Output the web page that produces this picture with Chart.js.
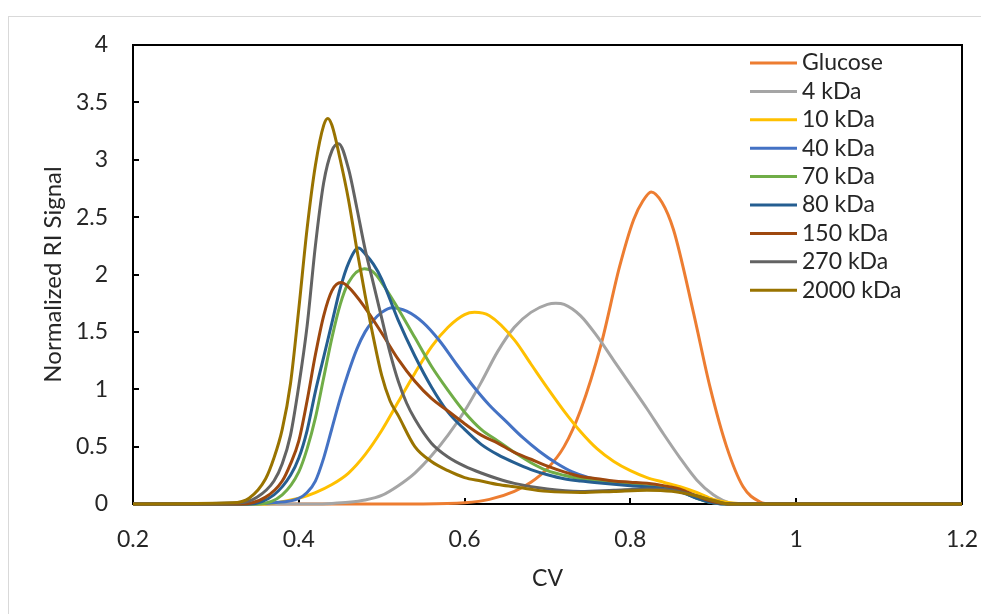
<!DOCTYPE html>
<html>
<head>
<meta charset="utf-8">
<title>RI signal vs CV</title>
<script src="https://cdn.jsdelivr.net/npm/chart.js@4.4.1/dist/chart.umd.min.js"></script>
<style>
  html, body { margin: 0; padding: 0; background: #fff; }
  canvas { display: block; }
</style>
</head>
<body>
<canvas id="myChart" width="981" height="614"></canvas>
<script>
// CV / normalized RI signal pairs, one pair of arrays per sample
const cvGlucose = [0.2, 0.55, 0.60, 0.63, 0.66, 0.68, 0.70, 0.72, 0.74, 0.765, 0.787, 0.804, 0.815, 0.825, 0.838, 0.852, 0.876, 0.896, 0.916, 0.936, 0.956, 0.97, 1.2]
const riGlucose = [0, 0, 0.01, 0.04, 0.11, 0.19, 0.31, 0.50, 0.82, 1.40, 2.07, 2.48, 2.64, 2.72, 2.63, 2.39, 1.67, 1.02, 0.50, 0.15, 0.02, 0, 0]

const cv4 = [0.2, 0.42, 0.44, 0.46, 0.48, 0.50, 0.52, 0.54, 0.56, 0.58, 0.60, 0.62, 0.64, 0.66, 0.68, 0.70, 0.71, 0.72, 0.74, 0.76, 0.78, 0.80, 0.82, 0.84, 0.86, 0.88, 0.90, 0.92, 0.94, 1.2]
const ri4 = [0, 0, 0.005, 0.015, 0.035, 0.075, 0.16, 0.27, 0.42, 0.60, 0.81, 1.06, 1.33, 1.54, 1.67, 1.74, 1.75, 1.74, 1.64, 1.46, 1.25, 1.04, 0.83, 0.61, 0.40, 0.21, 0.08, 0.01, 0, 0]

const cv10 = [0.2, 0.36, 0.38, 0.40, 0.42, 0.44, 0.46, 0.48, 0.50, 0.52, 0.54, 0.56, 0.58, 0.60, 0.612, 0.63, 0.66, 0.68, 0.70, 0.72, 0.74, 0.76, 0.78, 0.80, 0.82, 0.84, 0.86, 0.88, 0.90, 0.92, 0.94, 1.2]
const ri10 = [0, 0, 0.02, 0.05, 0.10, 0.17, 0.27, 0.43, 0.64, 0.89, 1.14, 1.37, 1.54, 1.65, 1.67, 1.64, 1.43, 1.22, 1.01, 0.81, 0.63, 0.48, 0.37, 0.29, 0.23, 0.19, 0.15, 0.10, 0.04, 0.01, 0, 0]

const cv40 = [0.2, 0.34, 0.37, 0.40, 0.41, 0.42, 0.43, 0.44, 0.45, 0.46, 0.47, 0.48, 0.49, 0.50, 0.513, 0.53, 0.55, 0.57, 0.59, 0.61, 0.63, 0.65, 0.67, 0.69, 0.71, 0.73, 0.75, 0.77, 0.79, 0.81, 0.83, 0.85, 0.87, 0.89, 0.91, 1.2]
const ri40 = [0, 0, 0.01, 0.05, 0.10, 0.20, 0.40, 0.66, 0.92, 1.15, 1.35, 1.50, 1.60, 1.67, 1.71, 1.68, 1.58, 1.42, 1.22, 1.03, 0.86, 0.72, 0.58, 0.46, 0.36, 0.28, 0.23, 0.20, 0.18, 0.16, 0.15, 0.13, 0.08, 0.03, 0, 0]

const cv70 = [0.2, 0.35, 0.38, 0.40, 0.41, 0.42, 0.43, 0.44, 0.45, 0.46, 0.479, 0.49, 0.50, 0.52, 0.54, 0.56, 0.58, 0.60, 0.62, 0.64, 0.66, 0.68, 0.70, 0.72, 0.74, 0.76, 0.80, 0.84, 0.86, 0.88, 0.90, 0.92, 1.2]
const ri70 = [0, 0, 0.08, 0.28, 0.48, 0.75, 1.10, 1.45, 1.74, 1.93, 2.05, 2.02, 1.93, 1.70, 1.45, 1.20, 0.99, 0.80, 0.65, 0.55, 0.45, 0.36, 0.29, 0.25, 0.22, 0.20, 0.17, 0.14, 0.11, 0.05, 0.01, 0, 0]

const cv80 = [0.2, 0.34, 0.37, 0.39, 0.40, 0.41, 0.42, 0.43, 0.44, 0.45, 0.46, 0.472, 0.48, 0.49, 0.50, 0.52, 0.54, 0.56, 0.58, 0.60, 0.62, 0.64, 0.66, 0.68, 0.70, 0.72, 0.74, 0.76, 0.80, 0.84, 0.86, 0.88, 0.90, 0.92, 1.2]
const ri80 = [0, 0, 0.08, 0.25, 0.40, 0.64, 0.98, 1.28, 1.58, 1.88, 2.10, 2.23, 2.18, 2.09, 1.96, 1.60, 1.29, 1.02, 0.80, 0.65, 0.52, 0.43, 0.36, 0.30, 0.255, 0.22, 0.20, 0.185, 0.16, 0.135, 0.11, 0.05, 0.01, 0, 0]

const cv150 = [0.2, 0.33, 0.36, 0.38, 0.39, 0.40, 0.41, 0.42, 0.43, 0.44, 0.451, 0.46, 0.48, 0.50, 0.52, 0.54, 0.56, 0.58, 0.60, 0.62, 0.64, 0.66, 0.68, 0.70, 0.72, 0.74, 0.76, 0.78, 0.80, 0.82, 0.84, 0.86, 0.88, 0.90, 0.92, 1.2]
const ri150 = [0, 0, 0.06, 0.20, 0.35, 0.55, 0.90, 1.30, 1.64, 1.86, 1.93, 1.89, 1.71, 1.49, 1.26, 1.07, 0.92, 0.81, 0.70, 0.60, 0.53, 0.45, 0.39, 0.33, 0.28, 0.24, 0.22, 0.20, 0.19, 0.18, 0.16, 0.13, 0.07, 0.02, 0, 0]

const cv270 = [0.2, 0.33, 0.35, 0.37, 0.38, 0.39, 0.40, 0.41, 0.42, 0.43, 0.44, 0.448, 0.46, 0.47, 0.48, 0.49, 0.50, 0.51, 0.52, 0.53, 0.54, 0.56, 0.58, 0.60, 0.62, 0.64, 0.66, 0.70, 0.74, 0.78, 0.82, 0.85, 0.88, 0.90, 0.92, 1.2]
const ri270 = [0, 0.01, 0.06, 0.20, 0.35, 0.60, 1.03, 1.55, 2.25, 2.80, 3.08, 3.14, 2.92, 2.58, 2.22, 1.92, 1.62, 1.32, 1.07, 0.88, 0.74, 0.53, 0.41, 0.33, 0.27, 0.22, 0.18, 0.13, 0.11, 0.12, 0.13, 0.12, 0.07, 0.03, 0, 0]

const cv2000 = [0.2, 0.32, 0.34, 0.36, 0.37, 0.38, 0.39, 0.40, 0.41, 0.42, 0.43, 0.435, 0.44, 0.45, 0.46, 0.47, 0.48, 0.49, 0.50, 0.51, 0.52, 0.54, 0.56, 0.58, 0.60, 0.62, 0.64, 0.66, 0.70, 0.74, 0.78, 0.82, 0.85, 0.88, 0.90, 0.92, 1.2]
const ri2000 = [0, 0.01, 0.05, 0.22, 0.40, 0.65, 1.05, 1.70, 2.40, 2.95, 3.30, 3.36, 3.30, 3.00, 2.65, 2.22, 1.82, 1.45, 1.12, 0.90, 0.77, 0.50, 0.37, 0.29, 0.23, 0.20, 0.17, 0.15, 0.11, 0.10, 0.11, 0.12, 0.11, 0.07, 0.03, 0, 0]

const seriesNames = ['Glucose', '4 kDa', '10 kDa', '40 kDa', '70 kDa', '80 kDa', '150 kDa', '270 kDa', '2000 kDa']
const seriesColors = ['#ED7D31', '#A5A5A5', '#FFC000', '#4472C4', '#70AD47', '#255E91', '#9E480E', '#636363', '#997300']
const seriesCV = [cvGlucose, cv4, cv10, cv40, cv70, cv80, cv150, cv270, cv2000]
const seriesRI = [riGlucose, ri4, ri10, ri40, ri70, ri80, ri150, ri270, ri2000]

const xTicks = [0.2, 0.4, 0.6, 0.8, 1, 1.2]
const yTicks = [0, 0.5, 1, 1.5, 2, 2.5, 3, 3.5, 4]

const fontFam = 'Lato, "Open Sans", sans-serif'
const txtColor = '#262626'

const datasets = seriesNames.map((name, i) => ({
    label: name,
    data: seriesCV[i].map((x, k) => ({ x: x, y: seriesRI[i][k] })),
    borderColor: seriesColors[i],
    backgroundColor: seriesColors[i],
    borderWidth: 3,
    pointRadius: 0,
    fill: false,
    cubicInterpolationMode: 'monotone',
    clip: false,
    // last sample ends up on top, like the spreadsheet draws it
    order: seriesNames.length - i
}))

// frame, inward tick marks, outer border and the legend box
const marcoPlugin = {
    id: 'marco',
    beforeDraw(chart) {
        const c = chart.ctx
        c.save()
        c.fillStyle = '#fff'
        c.fillRect(0, 0, chart.width, chart.height)
        c.strokeStyle = '#d9d9d9'
        c.lineWidth = 1
        c.strokeRect(8.5, 16.5, chart.width + 10, chart.height + 10)
        c.restore()
    },
    beforeDatasetsDraw(chart) {
        const c = chart.ctx
        const a = chart.chartArea
        const xs = chart.scales.x, ys = chart.scales.y
        c.save()
        c.strokeStyle = '#000'
        c.lineWidth = 2
        c.strokeRect(a.left, a.top, a.right - a.left, a.bottom - a.top)
        c.beginPath()
        yTicks.forEach(v => {
            const py = Math.round(ys.getPixelForValue(v))
            c.moveTo(a.left, py)
            c.lineTo(a.left + 6, py)
        })
        xTicks.forEach(v => {
            const px = Math.round(xs.getPixelForValue(v))
            c.moveTo(px, a.bottom)
            c.lineTo(px, a.bottom - 6)
        })
        c.stroke()
        c.restore()
    },
    afterDatasetsDraw(chart) {
        const c = chart.ctx
        c.save()
        c.font = '23px ' + fontFam
        c.textBaseline = 'middle'
        c.textAlign = 'left'
        chart.data.datasets.forEach((ds, i) => {
            const y = 63 + i * 28.4
            c.strokeStyle = ds.borderColor
            c.lineWidth = 3
            c.beginPath()
            c.moveTo(750, y)
            c.lineTo(797, y)
            c.stroke()
            c.fillStyle = txtColor
            c.fillText(ds.label, 802, y)
        })
        c.restore()
    }
}

const fmt = v => String(Math.round(v * 10) / 10)

let ctx = document.getElementById('myChart').getContext('2d')
let myChart = new Chart(ctx, {
    type: 'line',
    data: { datasets: datasets },
    options: {
        responsive: false,
        animation: false,
        events: [],
        layout: { padding: { left: 0, top: 45, right: 19, bottom: 0 } },
        plugins: {
            legend: { display: false },
            tooltip: { enabled: false }
        },
        scales: {
            x: {
                type: 'linear',
                min: 0.2,
                max: 1.2,
                // fixed box so the plot frame sits where it should
                afterFit: s => { s.height = 110; s.paddingLeft = 0; s.paddingRight = 0 },
                afterBuildTicks: s => { s.ticks = xTicks.map(v => ({ value: v })) },
                grid: { display: false, drawTicks: false },
                border: { display: false },
                ticks: { padding: 22, color: txtColor, font: { family: fontFam, size: 23 }, callback: fmt, maxRotation: 0 },
                title: { display: true, text: 'CV', color: txtColor, font: { family: fontFam, size: 23 }, padding: { top: 0, bottom: 22 } }
            },
            y: {
                type: 'linear',
                min: 0,
                max: 4,
                afterFit: s => { s.width = 133; s.paddingTop = 0; s.paddingBottom = 0 },
                afterBuildTicks: s => { s.ticks = yTicks.map(v => ({ value: v })) },
                grid: { display: false, drawTicks: false },
                border: { display: false },
                ticks: { padding: 25, color: txtColor, font: { family: fontFam, size: 23 }, callback: fmt },
                title: { display: true, text: 'Normalized RI Signal', color: txtColor, font: { family: fontFam, size: 24 }, padding: { top: 39, bottom: 0 } }
            }
        }
    },
    plugins: [marcoPlugin]
})
</script>
</body>
</html>
